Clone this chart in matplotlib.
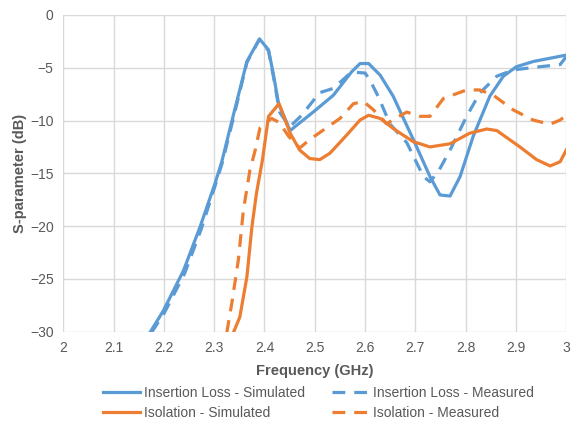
import matplotlib
matplotlib.use("Agg")
import matplotlib.pyplot as plt

plt.rcParams['font.family'] = ['Liberation Sans', 'DejaVu Sans']

# Insertion Loss - Simulated
il_sim_f = [2.172, 2.199, 2.239, 2.272, 2.302, 2.315, 2.338, 2.365, 2.39, 2.408, 2.418,
            2.428, 2.451, 2.498, 2.537, 2.573, 2.59, 2.607, 2.63, 2.656, 2.67, 2.696,
            2.729, 2.749, 2.769, 2.789, 2.815, 2.848, 2.875, 2.901, 2.935, 3.0]
il_sim_db = [-30.1, -28.0, -24.2, -20.05, -15.9, -13.9, -9.5, -4.4, -2.27, -3.3, -5.7,
             -8.4, -10.95, -9.15, -7.6, -5.4, -4.6, -4.6, -5.7, -7.7, -9.15, -11.8,
             -15.3, -17.05, -17.15, -15.3, -11.5, -7.7, -5.8, -4.9, -4.4, -3.8]

# Insertion Loss - Measured
il_meas_f = [2.175, 2.201, 2.241, 2.274, 2.303, 2.316, 2.339, 2.365, 2.39, 2.408, 2.418,
             2.43, 2.45, 2.474, 2.498, 2.507, 2.537, 2.573, 2.6, 2.61, 2.626, 2.643,
             2.649, 2.683, 2.716, 2.729, 2.746, 2.769, 2.802, 2.828, 2.862, 2.895,
             2.948, 2.988, 3.0]
il_meas_db = [-30.1, -28.2, -24.5, -20.3, -16.0, -14.0, -9.6, -4.5, -2.3, -3.4, -5.9,
              -9.2, -10.6, -9.5, -8.05, -7.4, -6.95, -5.4, -5.5, -6.2, -7.7, -9.6,
              -10.3, -12.1, -15.3, -15.8, -14.8, -12.8, -9.6, -7.4, -5.8, -5.2,
              -4.9, -4.7, -3.95]

# Isolation - Simulated
iso_sim_f = [2.338, 2.351, 2.365, 2.375, 2.384, 2.396, 2.408, 2.429, 2.451, 2.47, 2.49,
             2.51, 2.53, 2.563, 2.59, 2.607, 2.63, 2.656, 2.67, 2.696, 2.729, 2.769,
             2.808, 2.842, 2.862, 2.908, 2.941, 2.968, 2.988, 3.0]
iso_sim_db = [-30.1, -28.6, -24.8, -20.05, -16.9, -13.7, -9.6, -8.4, -11.2, -12.8, -13.6,
              -13.7, -13.1, -11.4, -9.95, -9.5, -9.8, -10.75, -11.2, -12.0, -12.5, -12.2,
              -11.2, -10.8, -10.95, -12.5, -13.7, -14.3, -13.9, -12.8]

# Isolation - Measured
iso_meas_f = [2.325, 2.335, 2.348, 2.358, 2.371, 2.381, 2.391, 2.414, 2.43, 2.448, 2.47,
              2.49, 2.517, 2.55, 2.577, 2.597, 2.617, 2.643, 2.66, 2.683, 2.709, 2.729,
              2.756, 2.802, 2.828, 2.855, 2.895, 2.934, 2.968, 2.988, 3.0]
iso_meas_db = [-30.1, -27.3, -23.2, -18.5, -14.7, -12.9, -10.7, -9.8, -10.2, -11.5, -12.6,
               -11.8, -10.9, -9.8, -8.4, -8.2, -9.0, -10.3, -9.8, -9.2, -9.6, -9.6,
               -7.9, -7.1, -7.1, -7.6, -9.0, -9.95, -10.35, -9.95, -9.5]

x_ticks = [2, 2.1, 2.2, 2.3, 2.4, 2.5, 2.6, 2.7, 2.8, 2.9, 3]
x_tick_labels = ['2', '2.1', '2.2', '2.3', '2.4', '2.5', '2.6', '2.7', '2.8', '2.9', '3']
y_ticks = [0, -5, -10, -15, -20, -25, -30]

blue = '#5B9BD5'
orange = '#ED7D31'
text_color = '#595959'
lw = 2.3
dash = (0, (4.0, 2.8))

fig = plt.figure(figsize=(5.76, 4.22), dpi=100)
ax = fig.add_axes([0.11, 0.214, 0.873, 0.7505])

h1, = ax.plot(il_sim_f, il_sim_db, color=blue, lw=lw, label='Insertion Loss - Simulated')
h2, = ax.plot(il_meas_f, il_meas_db, color=blue, lw=lw, ls=dash, label='Insertion Loss - Measured')
h3, = ax.plot(iso_sim_f, iso_sim_db, color=orange, lw=lw, label='Isolation - Simulated')
h4, = ax.plot(iso_meas_f, iso_meas_db, color=orange, lw=lw, ls=dash, label='Isolation - Measured')

ax.set_xlim(2, 3)
ax.set_ylim(-30, 0)
ax.set_xticks(x_ticks)
ax.set_xticklabels(x_tick_labels)
ax.set_yticks(y_ticks)
ax.grid(True, color='#d9d9d9', lw=1.0)
ax.set_axisbelow(True)
for s in ax.spines.values():
    s.set_visible(False)
ax.tick_params(length=0, labelsize=10, colors=text_color, pad=7)

ax.set_xlabel('Frequency (GHz)', fontsize=10.5, fontweight='bold', color=text_color, labelpad=6)
ax.set_ylabel('S-parameter (dB)', fontsize=10.5, fontweight='bold', color=text_color, labelpad=2)

leg = fig.legend([h1, h3, h2, h4],
                 [h1.get_label(), h3.get_label(), h2.get_label(), h4.get_label()],
                 ncol=2, loc='lower center', bbox_to_anchor=(0.553, -0.025), frameon=False,
                 fontsize=10, handlelength=2.6, columnspacing=2.0, labelspacing=0.45,
                 handletextpad=0.3, labelcolor=text_color)

fig.savefig('out.png', dpi=100)
